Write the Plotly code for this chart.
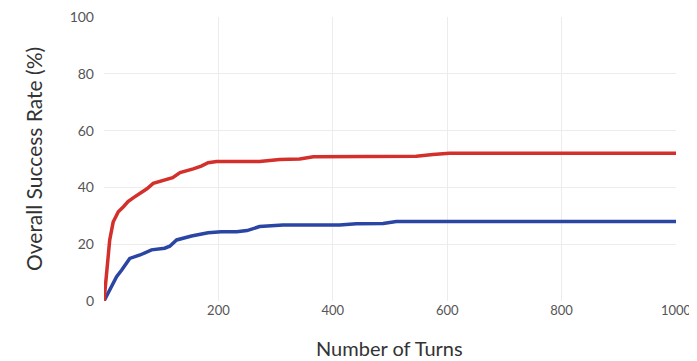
import plotly.graph_objects as go

turns_red = [0, 5, 10, 16, 25, 34, 42, 51, 66, 75, 86, 100, 109, 120, 133, 145, 156, 170, 182, 197, 220, 272, 307, 342, 366, 430, 546, 575, 604, 700, 800, 900, 1000]
rate_red = [0, 12, 21.5, 27.8, 31.4, 33.2, 35, 36.3, 38.2, 39.5, 41.4, 42.2, 42.6, 43.4, 45.2, 45.8, 46.5, 47.5, 48.7, 49.1, 49.1, 49.1, 49.8, 50, 50.8, 50.8, 51, 51.6, 52, 52, 52, 52, 52]

turns_blue = [0, 10, 22, 31, 45, 63, 83, 106, 115, 127, 153, 182, 205, 232, 250, 272, 313, 412, 441, 488, 511, 600, 800, 1000]
rate_blue = [0, 4, 8.6, 10.9, 15, 16.2, 18, 18.6, 19.3, 21.5, 22.9, 24, 24.4, 24.4, 24.8, 26.2, 26.8, 26.8, 27.2, 27.3, 28, 28, 28, 28]

x_ticks = [200, 400, 600, 800, 1000]
y_ticks = [0, 20, 40, 60, 80, 100]

fig = go.Figure()
fig.add_trace(go.Scatter(x=turns_blue, y=rate_blue, mode="lines",
                         line=dict(color="#2a45a3", width=3.5), showlegend=False))
fig.add_trace(go.Scatter(x=turns_red, y=rate_red, mode="lines",
                         line=dict(color="#d3302c", width=3.5), showlegend=False))

# page body has an 8px margin, so the figure is offset by 8px
fig.update_layout(
    width=689, height=353,
    margin=dict(l=96, r=21, t=9, b=60, autoexpand=False),
    paper_bgcolor="white", plot_bgcolor="white",
    font=dict(family="Lato, sans-serif", color="#555"),
    xaxis=dict(range=[0, 1000], tickvals=x_ticks, showgrid=True, gridcolor="#ececec",
               gridwidth=1, zeroline=False, showline=False, ticks="", automargin=False,
               ticklabeloverflow="allow",
               tickfont=dict(size=13, color="#555")),
    yaxis=dict(range=[0, 100], tickvals=y_ticks, showgrid=True, gridcolor="#ececec",
               gridwidth=1, zeroline=False, showline=False, ticks="", automargin=False,
               ticklabeloverflow="allow",
               tickfont=dict(size=14, color="#555"), ticklabelstandoff=9),
    annotations=[
        dict(text="Number of Turns", xref="paper", yref="paper", x=0.5, y=0,
             xshift=-1, yshift=-47, xanchor="center", yanchor="middle", showarrow=False,
             font=dict(size=20, color="#333")),
        dict(text="Overall Success Rate (%)", xref="paper", yref="paper", x=0, y=0.5,
             xshift=-71, xanchor="center", yanchor="middle", showarrow=False, textangle=-90,
             font=dict(size=21, color="#333")),
    ],
)

fig.write_html("out.html", post_script="document.body.style.overflow='hidden';")
